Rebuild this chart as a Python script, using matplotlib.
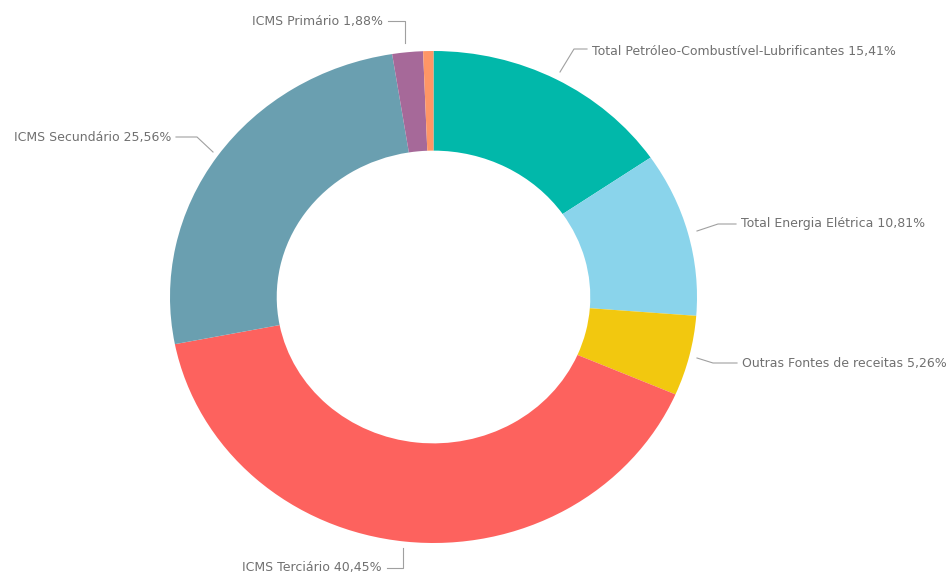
import matplotlib
matplotlib.use("Agg")
import matplotlib.pyplot as plt

# Revenue shares (%) in clockwise order starting at 12 o'clock
categories = [
    "Total Petróleo-Combustível-Lubrificantes",
    "Total Energia Elétrica",
    "Outras Fontes de receitas",
    "ICMS Terciário",
    "ICMS Secundário",
    "ICMS Primário",
    "",
]
values = [15.41, 10.81, 5.26, 40.45, 25.56, 1.88, 0.63]
value_labels = ["15,41%", "10,81%", "5,26%", "40,45%", "25,56%", "1,88%", ""]
colors = ["#01B8AA", "#8AD4EB", "#F2C80F", "#FD625E", "#6A9FB0", "#A66999", "#FE9666"]

W, H = 949, 577
fig = plt.figure(figsize=(W / 100, H / 100), dpi=100)
ax = fig.add_axes([0, 0, 1, 1])

ax.pie(values, colors=colors, startangle=90, counterclock=False,
       radius=1.0, wedgeprops=dict(width=0.405, edgecolor="none"))

# pixel-to-data mapping: ring centre and radii in pixels
cx, cy, rx, ry = 433.5, 297.0, 263.5, 246.0
ax.set_aspect("auto")
ax.set_xlim(-cx / rx, (W - cx) / rx)
ax.set_ylim(-(H - cy) / ry, cy / ry)
ax.axis("off")


def px(x, y):
    return (x - cx) / rx, (cy - y) / ry


line_kw = dict(color="#a0a0a0", lw=0.8)
text_kw = dict(fontsize=9, color="#707070", va="center", family="DejaVu Sans")

# leader lines (pixel paths) and label anchors
callouts = [
    (0, [(560, 72), (574, 49), (587, 49)], (592, 51), "left"),
    (1, [(697, 231), (718, 224), (736, 224)], (741, 224), "left"),
    (2, [(697, 358), (713, 363), (737, 363)], (742, 363), "left"),
    (3, [(403, 548), (403, 568), (387, 568)], (382, 568), "right"),
    (4, [(213, 152), (197, 137), (176, 137)], (171, 137), "right"),
    (5, [(405, 43), (405, 21), (388, 21)], (383, 22), "right"),
]

for i, path, anchor, ha in callouts:
    xs, ys = zip(*[px(x, y) for x, y in path])
    ax.plot(xs, ys, **line_kw)
    tx, ty = px(*anchor)
    ax.text(tx, ty, f"{categories[i]} {value_labels[i]}", ha=ha, **text_kw)

fig.savefig("out.png", dpi=100, facecolor="white")
